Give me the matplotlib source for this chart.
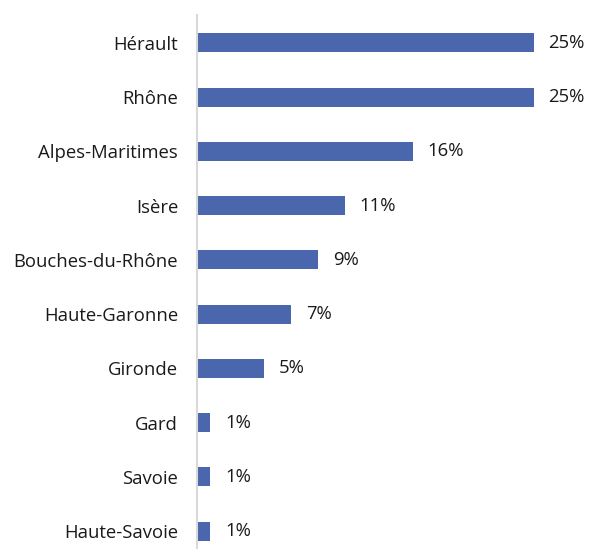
import matplotlib
matplotlib.use("Agg")
import matplotlib.pyplot as plt

departements = ["Hérault", "Rhône", "Alpes-Maritimes", "Isère", "Bouches-du-Rhône",
                "Haute-Garonne", "Gironde", "Gard", "Savoie", "Haute-Savoie"]
parts = [25, 25, 16, 11, 9, 7, 5, 1, 1, 1]

plt.rcParams['font.family'] = ['Open Sans', 'DejaVu Sans']

W, H = 590, 549
fig = plt.figure(figsize=(W / 100, H / 100), dpi=100)
ax = fig.add_axes([197 / W, 0, (W - 197) / W, 1 - 15 / H])

pos = list(range(len(departements)))
ax.barh(pos, parts, height=0.35, color="#4A66AC")
for p, v in zip(pos, parts):
    ax.annotate(f"{v}%", (v, p), xytext=(10.5, 0), textcoords="offset points",
                va="center", ha="left", fontsize=13.3, color="#1a1a1a")

ax.set_yticks(pos)
ax.set_yticklabels(departements, fontsize=13.3, color="#1a1a1a")
ax.tick_params(axis="y", length=0, pad=13.5)
ax.set_xticks([])
ax.set_xlim(0, 25 * (W - 197) / 337)
ax.set_ylim(9.33, -0.516)
for s in ["top", "right", "bottom"]:
    ax.spines[s].set_visible(False)
ax.spines["left"].set_color("#D9D9D9")
ax.spines["left"].set_linewidth(1.5)

fig.savefig("out.png", dpi=100)
